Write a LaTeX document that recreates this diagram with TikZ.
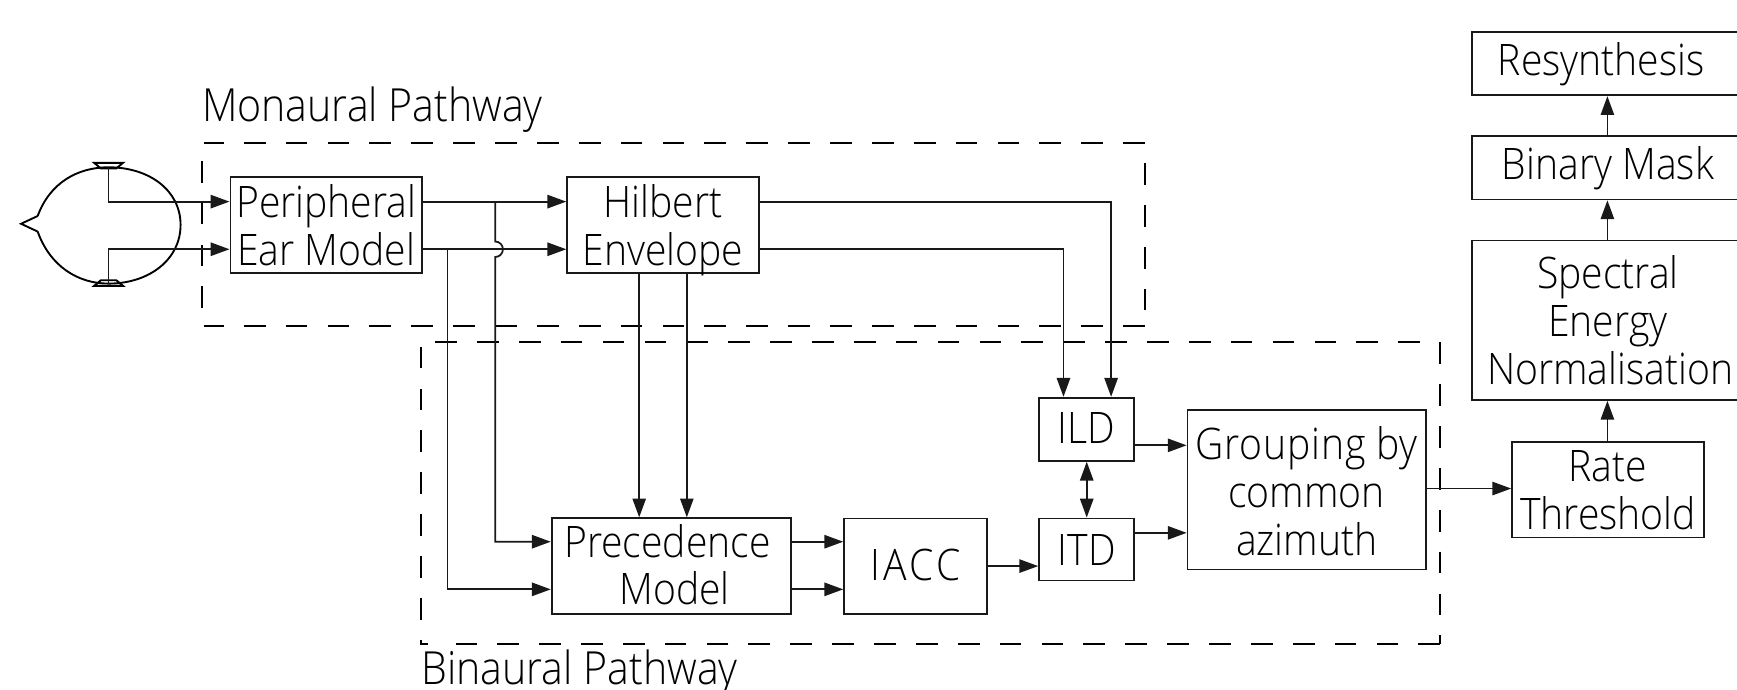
\documentclass[tikz,border=0pt]{standalone}
\usepackage{fontspec}
\setmainfont[FakeStretch=0.9]{Open Sans Light}
\usetikzlibrary{arrows.meta,calc}
\tikzset{
  box/.style={draw=black!90,line width=0.8pt,inner sep=0pt,align=center,font=\fontsize{19.6}{21.6}\selectfont,fill=white},
  wire/.style={draw=black!90,line width=0.8pt},
  arr/.style={wire,-{Triangle[length=8.5pt,width=6pt]}},
  darr/.style={wire,{Triangle[length=8.5pt,width=6pt]}-{Triangle[length=8.5pt,width=6pt]}},
  region/.style={draw=black,line width=0.8pt,dash pattern=on 9.8pt off 9.1pt},
  lab/.style={font=\fontsize{20.6}{21.6}\selectfont,anchor=base west,inner sep=0pt},
  headline/.style={draw=black,line width=0.85pt}
}
\newcommand{\bx}[6]{\node[box,minimum width=#4*0.5pt-#2*0.5pt,minimum height=#5*0.5pt-#3*0.5pt] (#1) at ({(#2+#4)/2},{(#3+#5)/2}) {#6};}
% one text line of fixed height: depth of the strut, x-shift, text
\newcommand{\tl}[3]{\rule[-#1pt]{0pt}{21.6pt}\smash{\hspace*{#2pt}#3\hspace*{-#2pt}}}
\begin{document}
\begin{tikzpicture}[x=0.5pt,y=-0.5pt]
\useasboundingbox (0,0) rectangle (1568,622);
% rails
\coordinate (r182) at (0,182);
\coordinate (r225) at (0,225);
\coordinate (r489) at (0,489);
\coordinate (r532) at (0,532);
\coordinate (r511) at (0,511);
\coordinate (r402) at (0,402);
\coordinate (r481) at (0,481);
\coordinate (r441) at (0,441);
\coordinate (c98) at (98,0);
\coordinate (c404) at (404,0);
\coordinate (c447) at (447,0);
\coordinate (c577) at (577,0);
\coordinate (c620) at (620,0);
\coordinate (c960) at (960,0);
\coordinate (c1003) at (1003,0);
\coordinate (c1451) at (1451,0);
% Monaural region
\draw[region] (1033.5,129) -- (184,129);
\draw[region,dash phase=9.8pt] (1033.5,129) -- (1033.5,294);
\draw[region] (1033.5,294) -- (184,294);
\draw[region,dash phase=10.8pt] (182,129) -- (182,294);
% Binaural region
\draw[region,dash phase=9.8pt] (1300,309) -- (392,309);
\draw[region] (1300,309) -- (1300,581);
\draw[region] (1300,581) -- (412,581);
\draw[region,dash phase=16.9pt] (380,309) -- (380,581) -- (386,581);
\node[lab] (monlab) at (182,110) {Monaural Pathway};
\node[lab] (binlab) at (380,618) {Binaural Pathway};
% head
\coordinate (earT) at (98,151);
\coordinate (earB) at (98,256);
\draw[headline] (34,195) -- (19,202) -- (34,209);
\draw[headline] (34,195) .. controls (45,165) and (70,151) .. (98,151) .. controls (135,151) and (163,172) .. (163,203) .. controls (163,234) and (135,256) .. (98,256) .. controls (70,256) and (45,240) .. (34,209);
\draw[headline] (85,147) -- (111,147) -- (105,152) -- (91,152) -- cycle;
\draw[headline] (85,258) -- (111,258) -- (105,253) -- (91,253) -- cycle;
% boxes
\bx{per}{208}{160}{381}{246}{\tl{3.4}{0}{Peripheral}\\\tl{3.4}{0}{Ear Model}}
\bx{hil}{512}{160}{685}{246}{\tl{3.4}{0}{Hilbert}\\\tl{3.4}{0}{Envelope}}
\bx{pre}{498}{468}{714}{554}{\tl{4.1}{-1.75}{Precedence}\\\tl{4.1}{1.5}{Model}}
\bx{iacc}{762}{468}{891}{554}{\tl{4.3}{0}{\addfontfeatures{LetterSpace=8}IACC}}
\bx{ild}{938}{359}{1024}{416}{\tl{4.6}{0}{ILD}}
\bx{itd}{938}{468}{1024}{524}{\tl{3.6}{0}{ITD}}
\bx{grp}{1072}{370}{1287}{514}{\tl{2.9}{0}{\addfontfeatures{LetterSpace=2}Grouping by}\\\tl{2.9}{0}{common}\\\tl{2.9}{0}{azimuth}}
\bx{rate}{1365}{399}{1538}{485}{\tl{3.6}{0}{Rate}\\\tl{3.6}{0}{Threshold}}
\bx{spec}{1329}{217}{1578}{361}{\tl{3.4}{-1}{Spectral}\\\tl{3.4}{-1}{Energy}\\\tl{3.4}{0}{Normalisation}}
\bx{bin}{1329}{123}{1578}{180}{\tl{5.6}{-1}{Binary Mask}}
\bx{res}{1329}{29}{1578}{86}{\tl{5.6}{-4}{Resynthesis}}
% connectors
\draw[arr] (earT) -- (c98 |- r182) -- (per.west |- r182);
\draw[arr] (earB) -- (c98 |- r225) -- (per.west |- r225);
\draw[arr] (per.east |- r182) -- (hil.west |- r182);
\draw[arr] (per.east |- r225) -- (hil.west |- r225);
\draw[arr] (c447 |- r182) -- ($(c447 |- r225)+(0,-7)$) arc[start angle=90,end angle=-90,radius=3.5pt] -- (c447 |- r489) -- (pre.west |- r489);
\draw[arr] (c404 |- r225) -- (c404 |- r532) -- (pre.west |- r532);
\draw[arr] (hil.east |- r182) -- (c1003 |- r182) -- (c1003 |- ild.north);
\draw[arr] (hil.east |- r225) -- (c960 |- r225) -- (c960 |- ild.north);
\draw[arr] (c577 |- hil.south) -- (c577 |- pre.north);
\draw[arr] (c620 |- hil.south) -- (c620 |- pre.north);
\draw[arr] (pre.east |- r489) -- (iacc.west |- r489);
\draw[arr] (pre.east |- r532) -- (iacc.west |- r532);
\draw[arr] (iacc.east |- r511) -- (itd.west |- r511);
\draw[darr] (ild.south) -- (itd.north);
\draw[arr] (ild.east |- r402) -- (grp.west |- r402);
\draw[arr] (itd.east |- r481) -- (grp.west |- r481);
\draw[arr] (grp.east |- r441) -- (rate.west |- r441);
\draw[arr] (c1451 |- rate.north) -- (c1451 |- spec.south);
\draw[arr] (c1451 |- spec.north) -- (c1451 |- bin.south);
\draw[arr] (c1451 |- bin.north) -- (c1451 |- res.south);
\end{tikzpicture}
\end{document}
